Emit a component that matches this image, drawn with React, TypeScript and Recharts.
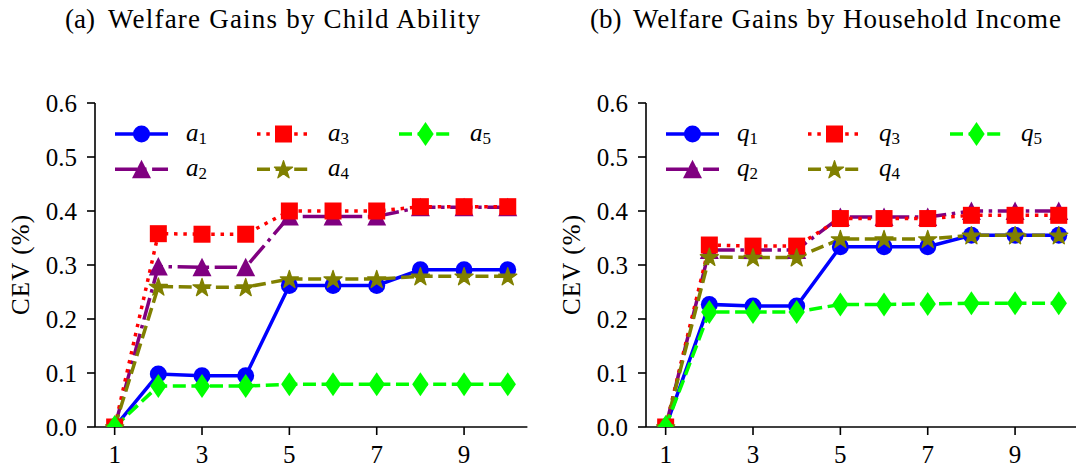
import React from 'react';
import { LineChart, Line, XAxis, YAxis } from 'recharts';

// generation index on the x axis
const steps = [1, 2, 3, 4, 5, 6, 7, 8, 9, 10];

// (a) by child ability
const ability1 = [0, 0.098, 0.095, 0.095, 0.262, 0.262, 0.262, 0.291, 0.291, 0.291];
const ability2 = [0, 0.297, 0.296, 0.296, 0.39, 0.39, 0.39, 0.407, 0.407, 0.407];
const ability3 = [0, 0.358, 0.357, 0.357, 0.4, 0.4, 0.4, 0.408, 0.408, 0.408];
const ability4 = [0, 0.26, 0.259, 0.259, 0.274, 0.274, 0.274, 0.279, 0.279, 0.279];
const ability5 = [0, 0.076, 0.076, 0.076, 0.079, 0.079, 0.079, 0.079, 0.079, 0.079];

// (b) by household income
const income1 = [0, 0.227, 0.224, 0.224, 0.334, 0.334, 0.334, 0.355, 0.355, 0.355];
const income2 = [0, 0.328, 0.328, 0.328, 0.389, 0.389, 0.389, 0.4, 0.4, 0.4];
const income3 = [0, 0.337, 0.335, 0.335, 0.386, 0.386, 0.386, 0.392, 0.392, 0.392];
const income4 = [0, 0.315, 0.314, 0.314, 0.348, 0.348, 0.348, 0.355, 0.355, 0.355];
const income5 = [0, 0.213, 0.213, 0.213, 0.227, 0.227, 0.228, 0.229, 0.229, 0.229];

const xTicks = [1, 3, 5, 7, 9];
const yTicks = [0, 0.1, 0.2, 0.3, 0.4, 0.5, 0.6];

const FONT = '"Liberation Serif", "Times New Roman", serif';

const seriesStyle = [
  { color: '#0000ff', dash: undefined, shape: 'circle' },
  { color: '#800080', dash: '22.4 5.6 3.5 5.6', shape: 'triangle' },
  { color: '#ff0000', dash: '3.5 5.8', shape: 'square' },
  { color: '#808000', dash: '13 5.6', shape: 'star' },
  { color: '#00ff00', dash: '13 5.6', shape: 'diamond' },
];

// legend slot for each series: [column, row]
const legendSlots = [
  [0, 0],
  [0, 1],
  [1, 0],
  [1, 1],
  [2, 0],
];

function starPoints(cx: number, cy: number, r: number) {
  const inner = r * 0.382;
  const pts: string[] = [];
  for (let i = 0; i < 10; i++) {
    const rad = i % 2 === 0 ? r : inner;
    const a = -Math.PI / 2 + (i * Math.PI) / 5;
    pts.push(`${cx + rad * Math.cos(a)},${cy + rad * Math.sin(a)}`);
  }
  return pts.join(' ');
}

const Marker = ({ shape, cx, cy, color }: { shape: string; cx: number; cy: number; color: string }) => {
  if (cx == null || cy == null) return null;
  switch (shape) {
    case 'circle':
      return <circle cx={cx} cy={cy} r={8.5} fill={color} />;
    case 'square':
      return <rect x={cx - 8.5} y={cy - 8.5} width={17} height={17} fill={color} />;
    case 'triangle':
      return <polygon points={`${cx},${cy - 9.5} ${cx - 9.5},${cy + 9} ${cx + 9.5},${cy + 9}`} fill={color} />;
    case 'star':
      return <polygon points={starPoints(cx, cy + 0.8, 9.5)} fill={color} stroke={color} strokeWidth={1.3} strokeLinejoin="round" />;
    default:
      return <polygon points={`${cx},${cy - 12} ${cx + 8.2},${cy} ${cx},${cy + 12} ${cx - 8.2},${cy}`} fill={color} />;
  }
};

interface PanelProps {
  left: number;
  tag: string;
  tagX: number;
  title: string;
  titleX: number;
  titleLen: number;
  letter: string;
  series: number[][];
}

const Panel: React.FC<PanelProps> = ({ left, tag, tagX, title, titleX, titleLen, letter, series }) => {
  const data = steps.map((x, i) => {
    const row: any = { x };
    series.forEach((s, k) => (row[`s${k + 1}`] = s[i]));
    return row;
  });

  return (
    <div style={{ position: 'absolute', left, top: 0, width: 540, height: 468 }}>
      <LineChart width={540} height={468} data={data} margin={{ top: 103, right: 12.6, left: 25, bottom: 6 }}>
        <XAxis
          dataKey="x"
          type="number"
          domain={[0.55, 10.45]}
          ticks={xTicks}
          interval={0}
          allowDataOverflow
          height={35}
          tickSize={8}
          tickMargin={10}
          tick={{ fill: '#000', fontSize: 25, fontFamily: FONT }}
          axisLine={{ stroke: '#000', strokeWidth: 1.6 }}
          tickLine={{ stroke: '#000', strokeWidth: 1.6 }}
        />
        <YAxis
          type="number"
          domain={[0, 0.6]}
          ticks={yTicks}
          interval={0}
          allowDataOverflow
          width={70}
          tickSize={8}
          tickMargin={10}
          tickFormatter={(v: number) => v.toFixed(1)}
          tick={{ fill: '#000', fontSize: 25, fontFamily: FONT }}
          axisLine={{ stroke: '#000', strokeWidth: 1.6 }}
          tickLine={{ stroke: '#000', strokeWidth: 1.6 }}
        />
        {seriesStyle.map((st, k) => (
          <Line
            key={k}
            type="linear"
            dataKey={`s${k + 1}`}
            stroke={st.color}
            strokeWidth={3.5}
            strokeDasharray={st.dash}
            dot={(p: any) => <Marker key={`${k}-${p.index}`} shape={st.shape} cx={p.cx} cy={p.cy} color={st.color} />}
            activeDot={false}
            isAnimationActive={false}
          />
        ))}
      </LineChart>
      <svg width={540} height={468} style={{ position: 'absolute', left: 0, top: 0, pointerEvents: 'none' }}>
        <text x={tagX} y={28} fontFamily={FONT} fontSize={27} fill="#000">{tag}</text>
        <text x={titleX} y={28} fontFamily={FONT} fontSize={27} fill="#000" textLength={titleLen} lengthAdjust="spacing">
          {title}
        </text>
        <text transform="translate(29,265) rotate(-90)" textAnchor="middle" fontFamily={FONT} fontSize={25} fill="#000" textLength={100}>
          CEV (%)
        </text>
        {seriesStyle.map((st, k) => {
          const [col, row] = legendSlots[k];
          const x0 = 115 + col * 142;
          const y0 = 134 + row * 35.3;
          return (
            <g key={k}>
              <line x1={x0} y1={y0} x2={x0 + 53} y2={y0} stroke={st.color} strokeWidth={3.5} strokeDasharray={st.dash} />
              <Marker shape={st.shape} cx={x0 + 26.5} cy={y0} color={st.color} />
              <text x={x0 + 71} y={y0 + 6.5} fontFamily={FONT} fontSize={25} fontStyle="italic" fill="#000">
                {letter}
                <tspan fontSize={17} fontStyle="normal" dy={3}>{k + 1}</tspan>
              </text>
            </g>
          );
        })}
      </svg>
    </div>
  );
};

export default function App() {
  return (
    <div style={{ position: 'absolute', left: 0, top: 0, width: 1076, height: 468, overflow: 'hidden', background: '#fff' }}>
      <Panel
        left={0}
        tag="(a)"
        tagX={65}
        title="Welfare Gains by Child Ability"
        titleX={108}
        titleLen={372}
        letter="a"
        series={[ability1, ability2, ability3, ability4, ability5]}
      />
      <Panel
        left={551}
        tag="(b)"
        tagX={39}
        title="Welfare Gains by Household Income"
        titleX={82}
        titleLen={428}
        letter="q"
        series={[income1, income2, income3, income4, income5]}
      />
    </div>
  );
}
